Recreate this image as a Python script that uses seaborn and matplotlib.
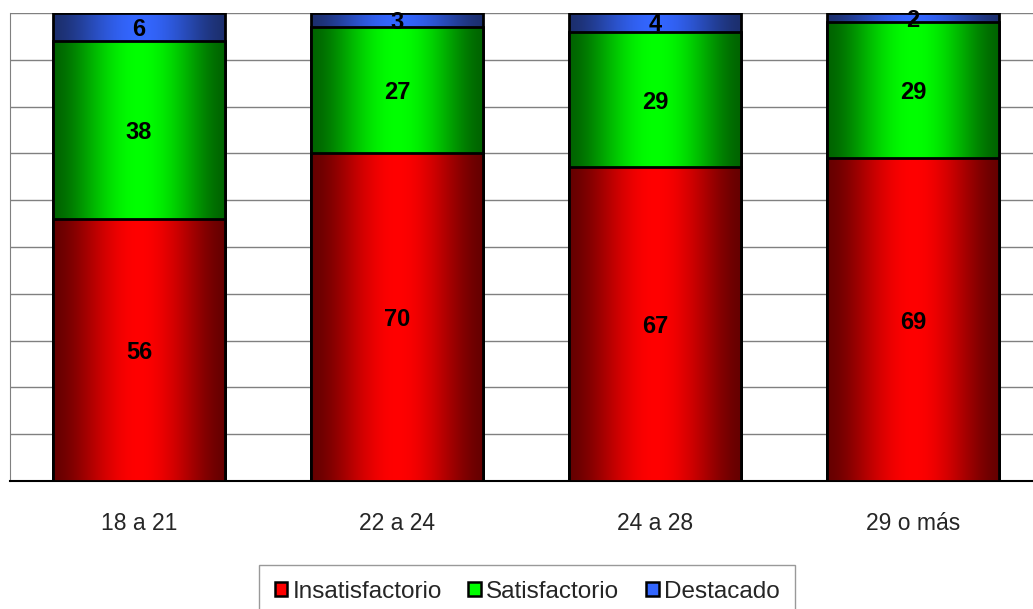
import numpy as np
import pandas as pd
import seaborn as sns
import matplotlib.pyplot as plt
from matplotlib.patches import Patch
from matplotlib.colors import to_rgb

# datos del grafico (porcentajes por grupo de edad)
grupos = ["18 a 21", "22 a 24", "24 a 28", "29 o más"]
insatisfactorio = [56, 70, 67, 69]
satisfactorio = [38, 27, 29, 29]
destacado = [6, 3, 4, 2]
series = ["Insatisfactorio", "Satisfactorio", "Destacado"]

# colores: (borde oscuro, centro claro)
colores = {
    "Insatisfactorio": ("#660000", "#ff0000"),
    "Satisfactorio": ("#006400", "#00ff00"),
    "Destacado": ("#1c2f6e", "#3366ff"),
}

sns.set_style("white")
plt.rcParams['font.family'] = ['Liberation Sans', 'DejaVu Sans']

df = pd.DataFrame({"grupo": grupos, "Insatisfactorio": insatisfactorio,
                   "Satisfactorio": satisfactorio, "Destacado": destacado})
df["base_sat"] = df["Insatisfactorio"]
df["base_dest"] = df["Insatisfactorio"] + df["Satisfactorio"]
df["top_sat"] = df["base_dest"]
df["top_dest"] = df["base_dest"] + df["Destacado"]

fig = plt.figure(figsize=(10.33, 6.09), dpi=100)
ax = fig.add_axes([10 / 1033, 128 / 609, 1032 / 1033, 468 / 609])


def gradiente(c_borde, c_centro, n=256):
    t = np.linspace(0, 1, n)
    w = np.sin(np.pi * t) ** 1.6
    a = np.array(to_rgb(c_borde))
    b = np.array(to_rgb(c_centro))
    fila = a[None, :] * (1 - w[:, None]) + b[None, :] * w[:, None]
    return fila[None, :, :]


# barras apiladas: primero el total (arriba) y luego se tapan con las de abajo
capas = [("Destacado", "top_dest"), ("Satisfactorio", "top_sat"), ("Insatisfactorio", "Insatisfactorio")]
for i, (nombre, col) in enumerate(capas):
    n_antes = len(ax.patches)
    sns.barplot(data=df, x="grupo", y=col, order=grupos, color=colores[nombre][1],
                width=0.67, saturation=1, errorbar=None, ax=ax)
    z = 1 + i
    img = gradiente(*colores[nombre])
    for p in ax.patches[n_antes:]:
        x, y = p.get_x(), p.get_y()
        w, h = p.get_width(), p.get_height()
        im = ax.imshow(img, extent=[x, x + w, y, y + h], aspect='auto',
                       zorder=z, interpolation='bilinear')
        im.set_clip_path(p)
        p.set_facecolor('none')
        p.set_edgecolor('black')
        p.set_linewidth(2)
        p.set_zorder(z + 0.5)

# etiquetas de valores
bases = {"Insatisfactorio": [0] * 4, "Satisfactorio": df["base_sat"], "Destacado": df["base_dest"]}
for nombre in series:
    for k in range(len(grupos)):
        v = df[nombre][k]
        ax.text(k, bases[nombre][k] + v / 2, str(v), ha='center', va='center_baseline',
                fontsize=17, fontweight='bold', color='black', zorder=10)

ax.set_xlim(-0.5, 3.5)
ax.set_ylim(0, 100)
ax.set_yticks(np.arange(0, 101, 10))
ax.set_yticklabels([])
ax.tick_params(axis='y', length=0)
ax.yaxis.grid(True, color='#808080', linewidth=1)
ax.set_axisbelow(True)
ax.set_xlabel("")
ax.set_ylabel("")
ax.set_xticks(range(len(grupos)))
ax.set_xticklabels(grupos, fontsize=16.5)
ax.tick_params(axis='x', which='major', length=0, pad=22)
ax.set_xticks([-0.5, 0.5, 1.5, 2.5], minor=True)
ax.tick_params(axis='x', which='minor', length=6, color='#808080', width=1, direction='out')
for s in ['top', 'right']:
    ax.spines[s].set_visible(False)
ax.spines['left'].set_color('#808080')
ax.spines['bottom'].set_color('black')
ax.spines['bottom'].set_linewidth(1.5)

handles = [Patch(facecolor=colores[s][1], edgecolor='black', linewidth=1.8, label=s) for s in series]
leg = fig.legend(handles=handles, loc='upper center', bbox_to_anchor=(527 / 1033, 1 - 565 / 609),
                 ncol=3, fontsize=17.5, frameon=True, fancybox=False, edgecolor='#808080',
                 handlelength=0.53, handleheight=0.53, handletextpad=0.2, columnspacing=1.1,
                 borderpad=0.65, borderaxespad=0)
leg.get_frame().set_linewidth(1)

plt.savefig("out.png", dpi=100)
